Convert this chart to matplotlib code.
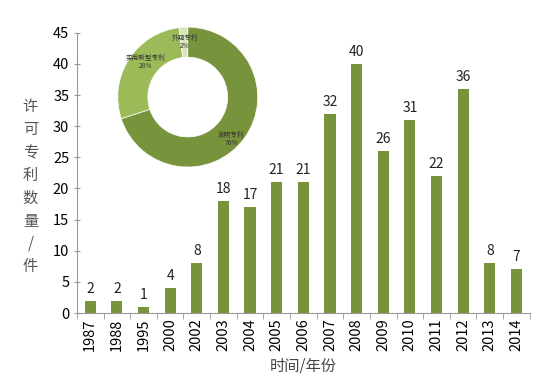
import matplotlib
matplotlib.use("Agg")
import matplotlib.pyplot as plt
import numpy as np

plt.rcParams['font.family'] = ['Noto Sans CJK SC', 'DejaVu Sans']

years = ['1987', '1988', '1995', '2000', '2002', '2003', '2004', '2005', '2006',
         '2007', '2008', '2009', '2010', '2011', '2012', '2013', '2014']
counts = [2, 2, 1, 4, 8, 18, 17, 21, 21, 32, 40, 26, 31, 22, 36, 8, 7]

pie_labels = ['发明专利', '实用新型专利', '外观专利']
pie_values = [70, 28, 2]
pie_colors = ['#77933C', '#9BBB59', '#D7E4BD']

fig = plt.figure(figsize=(5.53, 3.86), dpi=100)
ax = fig.add_axes([0.139, 0.189, 0.819, 0.726])

x = np.arange(len(years))
ax.bar(x, counts, width=0.42, color='#77933C')
for xi, v in zip(x, counts):
    ax.text(xi, v + 0.8, str(v), ha='center', va='bottom', fontsize=10, color='#222222')

ax.set_xlim(-0.5, len(years) - 0.5)
ax.set_ylim(0, 45)
ax.set_yticks(np.arange(0, 46, 5))
ax.set_xticks(x)
ax.set_xticklabels(years, rotation=90, fontsize=10.5)
ax.set_xticks(np.arange(-0.5, len(years), 1), minor=True)
ax.tick_params(axis='x', which='major', length=0, pad=4)
ax.tick_params(axis='x', which='minor', length=4, color='#999999', direction='out')
ax.tick_params(axis='y', labelsize=10.5, length=4, color='#999999', direction='inout')
for s in ['top', 'right']:
    ax.spines[s].set_visible(False)
for s in ['left', 'bottom']:
    ax.spines[s].set_color('#999999')

ax.set_xlabel('时间/年份', fontsize=11, color='#444444', labelpad=4)
fig.text(0.055, 0.516, '\n'.join('许可专利数量/件'), ha='center', va='center',
         fontsize=11, color='#555555', linespacing=1.45)

# donut inset
pax = fig.add_axes([0.213, 0.567, 0.253, 0.363])
wedges, _ = pax.pie(pie_values, colors=pie_colors, startangle=90, counterclock=False,
                    radius=1.0,
                    wedgeprops=dict(width=0.43, edgecolor='white', linewidth=0.5))
pax.set_xlim(-1.0, 1.0)
pax.set_ylim(-1.0, 1.0)
pax.set_aspect('equal')
pos = {'外观专利': (-0.04, 0.79), '实用新型专利': (-0.6, 0.5), '发明专利': (0.62, -0.6)}
for w, lab, v in zip(wedges, pie_labels, pie_values):
    tx, ty = pos[lab]
    pax.text(tx, ty, f'{lab}\n{v}%', ha='center', va='center', fontsize=4.8,
             color='#333333', linespacing=1.1)

fig.savefig('out.png', dpi=100)
